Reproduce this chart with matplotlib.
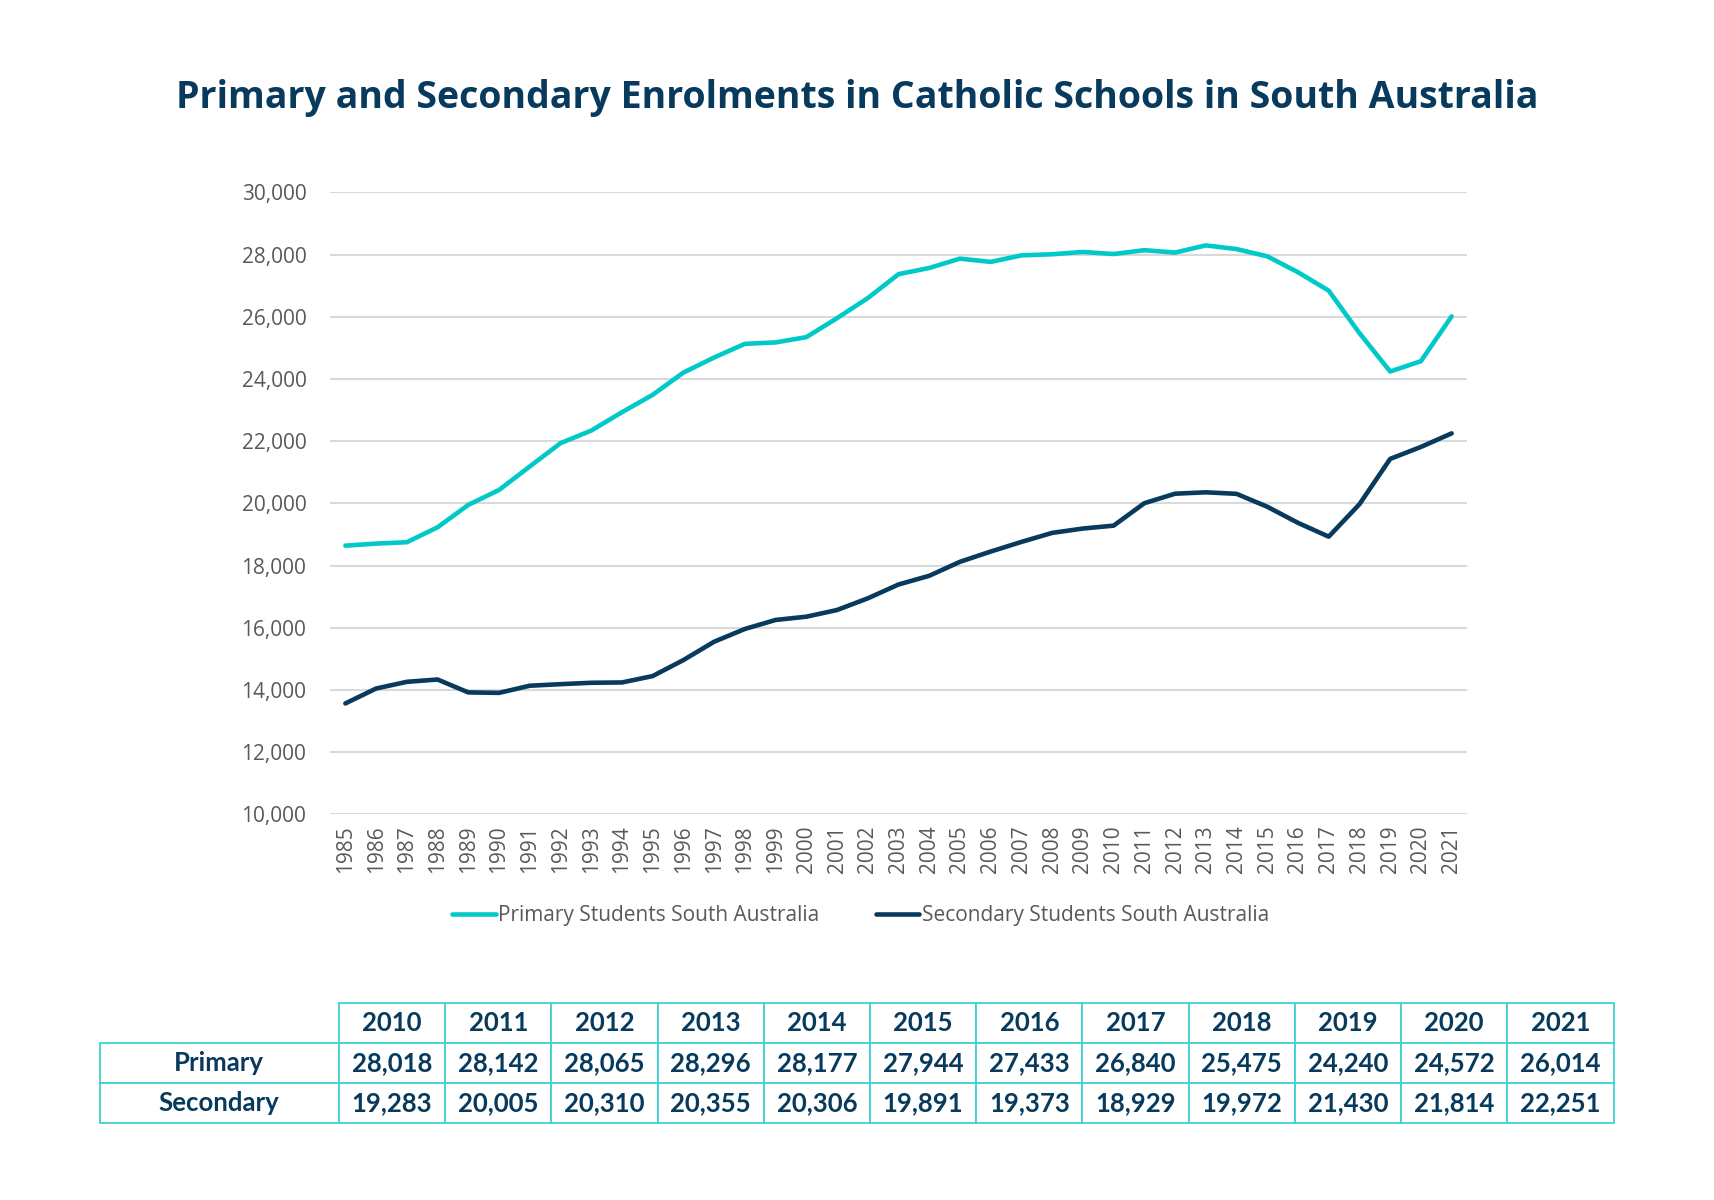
import matplotlib
matplotlib.use("Agg")
import matplotlib.pyplot as plt
import numpy as np

years = list(range(1985, 2022))
primary = [18640, 18705, 18750, 19230, 19950, 20430, 21185, 21935, 22340, 22930,
           23490, 24205, 24690, 25130, 25175, 25345, 25955, 26600, 27370, 27570,
           27870, 27765, 27975, 28010, 28085,
           28018, 28142, 28065, 28296, 28177, 27944, 27433, 26840, 25475, 24240, 24572, 26014]
secondary = [13565, 14045, 14260, 14335, 13920, 13905, 14135, 14185, 14230, 14240,
             14445, 14960, 15550, 15960, 16250, 16355, 16570, 16945, 17390, 17670,
             18120, 18450, 18760, 19050, 19190,
             19283, 20005, 20310, 20355, 20306, 19891, 19373, 18929, 19972, 21430, 21814, 22251]
series_names = ["Primary Students South Australia", "Secondary Students South Australia"]
row_names = ["Primary", "Secondary"]
table_start_year = 2010
title = "Primary and Secondary Enrolments in Catholic Schools in South Australia"

TEAL = "#00C9C8"
NAVY = "#073A5C"
GRID = "#D9D9D9"
TICK = "#595959"
BORDER = "#3FD2D2"
FONT = "Open Sans"

plt.rcParams['font.family'] = [FONT, 'DejaVu Sans']

fig = plt.figure(figsize=(17.14, 12), dpi=100)
ax = fig.add_axes([330/1714, 1-814.3/1200, (1467-330)/1714, (814.3-192.4)/1200])

x = np.arange(len(years))
ax.plot(x, primary, color=TEAL, lw=3.3, solid_joinstyle='round', solid_capstyle='round',
        label=series_names[0], zorder=3)
ax.plot(x, secondary, color=NAVY, lw=3.3, solid_joinstyle='round', solid_capstyle='round',
        label=series_names[1], zorder=3)

ax.set_xlim(-0.5, len(years) - 0.5)
ax.set_ylim(10000, 30000)
ax.set_yticks(np.arange(10000, 30001, 2000))
ax.yaxis.set_major_formatter(matplotlib.ticker.FuncFormatter(lambda v, p: f"{int(v):,}"))
ax.set_xticks(x)
ax.set_xticklabels([str(y) for y in years], rotation=90)
ax.grid(axis='y', color=GRID, lw=1.5)
ax.set_axisbelow(True)
for s in ax.spines.values():
    s.set_visible(False)
ax.tick_params(axis='both', length=0, colors=TICK, labelsize=15)
ax.tick_params(axis='y', pad=17)
ax.tick_params(axis='x', pad=8)

leg = ax.legend(loc='center', bbox_to_anchor=(0.502, 0.237), bbox_transform=fig.transFigure,
                ncol=2, frameon=False, fontsize=15, handlelength=2.1, handletextpad=0.12,
                columnspacing=2.7)
for t in leg.get_texts():
    t.set_color(TICK)

fig.text(0.5, 0.9185, title, ha='center', va='center', fontsize=27, fontweight='bold', color=NAVY)

# table
tax = fig.add_axes([99.5/1714, 1-1123/1200, (1613.5-99.5)/1714, (1123-1003)/1200])
tax.axis('off')
idx0 = years.index(table_start_year)
tyears = years[idx0:]
cell_text = [[""] + [str(y) for y in tyears],
             [row_names[0]] + [f"{v:,}" for v in primary[idx0:]],
             [row_names[1]] + [f"{v:,}" for v in secondary[idx0:]]]
colw = [239.5] + [106.2] * len(tyears)
tot = sum(colw)
tbl = tax.table(cellText=cell_text, colWidths=[c / tot for c in colw], bbox=[0, 0, 1, 1],
                cellLoc='center')
tbl.auto_set_font_size(False)
for (r, c), cell in tbl.get_celld().items():
    cell.set_edgecolor(BORDER)
    cell.set_linewidth(1.3)
    t = cell.get_text()
    t.set_fontsize(18.5)
    t.set_fontweight('bold')
    t.set_color(NAVY)
    t.set_fontfamily(['Lato', 'DejaVu Sans'])
    if r == 0 and c == 0:
        cell.set_edgecolor('none')
        cell.set_facecolor('none')
        cell.set_zorder(0)

fig.savefig("out.png", dpi=100, facecolor='white')
